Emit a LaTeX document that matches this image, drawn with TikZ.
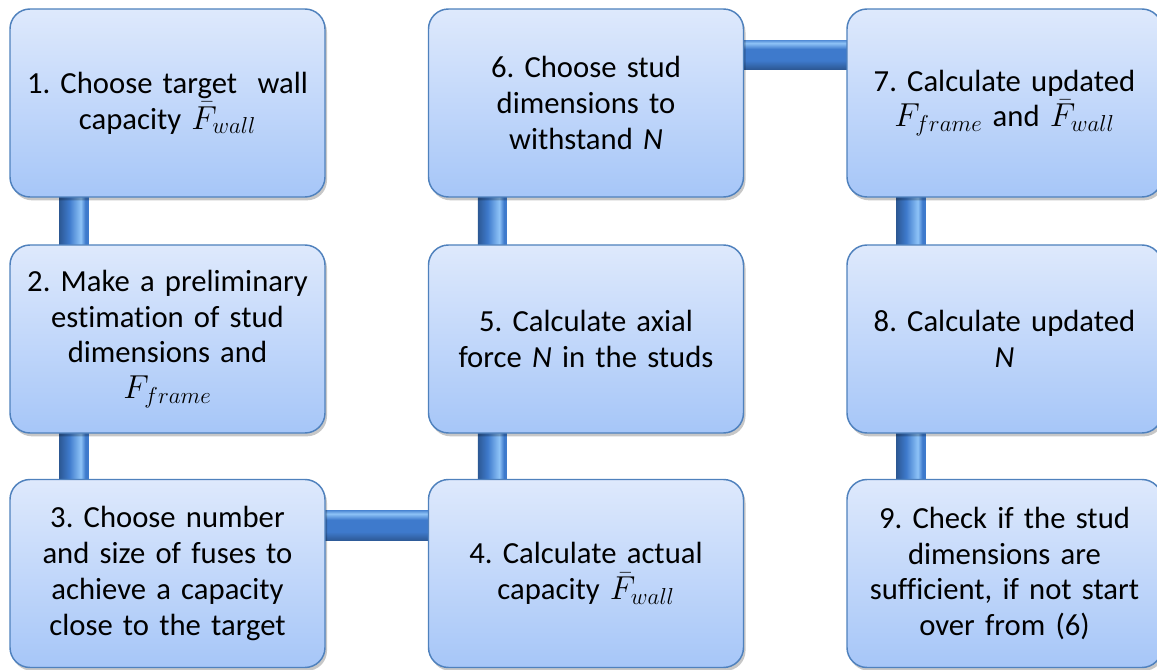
\documentclass[tikz,border=0pt]{standalone}
\usepackage{fontspec}
\setmainfont{Carlito}[Ligatures=NoCommon]
\usetikzlibrary{shadows,backgrounds,calc}
\DeclareMathSizes{23}{24}{18}{14}
\definecolor{boxtop}{HTML}{DEE9FC}
\definecolor{boxbot}{HTML}{A6C6F8}
\definecolor{boxline}{HTML}{4F81BD}
\definecolor{bardark}{HTML}{2C5894}
\definecolor{barmid}{HTML}{3E7ACC}
\definecolor{barlight}{HTML}{8EC3F7}
\pgfdeclarehorizontalshading{vbarshade}{100bp}{color(0bp)=(bardark); color(25bp)=(bardark); color(42bp)=(barmid); color(62bp)=(barlight); color(70bp)=(barmid); color(75bp)=(barmid); color(100bp)=(barmid)}
\pgfdeclareverticalshading{hbarshade}{100bp}{color(0bp)=(bardark); color(25bp)=(bardark); color(40bp)=(barmid); color(60bp)=(barmid); color(70bp)=(barlight); color(75bp)=(barmid!70!barlight); color(100bp)=(barlight)}
\frenchspacing
\begin{document}
\begin{tikzpicture}[x=0.75pt,y=-0.75pt,
  stepbox/.style={draw=boxline, line width=1.1pt, rounded corners=15pt,
    top color=boxtop, bottom color=boxbot,
    minimum width=236.25pt, minimum height=141pt, text width=220pt,
    align=center, inner sep=0pt,
    font=\fontsize{23}{26.8}\selectfont,
    drop shadow={shadow xshift=1.5pt, shadow yshift=-2.5pt, opacity=0.22, fill=black}},
  vbar/.style={shading=vbarshade},
  hbar/.style={shading=hbarshade}
]
\useasboundingbox (0,0) rectangle (1157,670);

\node[stepbox] (b1) at (167.5,103) {1. Choose target\ \ wall\\capacity $\bar{F}_{wall}$};
\node[stepbox] (b2) at (167.5,339) {2. Make a preliminary\\estimation of stud\\dimensions and\\$F_{frame}$};
\node[stepbox] (b3) at (167.5,573.5) {3. Choose number\\and size of fuses to\\achieve a capacity\\close to the target};
\node[stepbox] (b4) at (586,573.5) {4. Calculate actual\\capacity $\bar{F}_{wall}$};
\node[stepbox] (b5) at (586,339) {5. Calculate axial\\force \textit{N} in the studs};
\node[stepbox] (b6) at (586,103) {6. Choose stud\\dimensions to\\withstand \textit{N}};
\node[stepbox] (b7) at (1004.5,103) {7. Calculate updated\\$F_{frame}$ and $\bar{F}_{wall}$};
\node[stepbox] (b8) at (1004.5,339) {8. Calculate updated\\\textit{N}};
\node[stepbox] (b9) at (1004.5,573.5) {9. Check if the stud\\dimensions are\\sufficient, if not start\\over from (6)};

\begin{scope}[on background layer]
  \shade[vbar] ($(b1.south west)+(50,-4)$) rectangle ($(b2.north west)+(79,4)$);
  \shade[vbar] ($(b2.south west)+(50,-4)$) rectangle ($(b3.north west)+(79,4)$);
  \shade[hbar] ($(b3.north east)+(-4,32)$) rectangle ($(b4.north west)+(4,62)$);
  \shade[vbar] ($(b4.north west)+(50,4)$) rectangle ($(b5.south west)+(79,-4)$);
  \shade[vbar] ($(b5.north west)+(50,4)$) rectangle ($(b6.south west)+(79,-4)$);
  \shade[hbar] ($(b6.north east)+(-4,32)$) rectangle ($(b7.north west)+(4,61)$);
  \shade[vbar] ($(b7.south west)+(50,-4)$) rectangle ($(b8.north west)+(79,4)$);
  \shade[vbar] ($(b8.south west)+(50,-4)$) rectangle ($(b9.north west)+(79,4)$);
\end{scope}
\end{tikzpicture}
\end{document}
